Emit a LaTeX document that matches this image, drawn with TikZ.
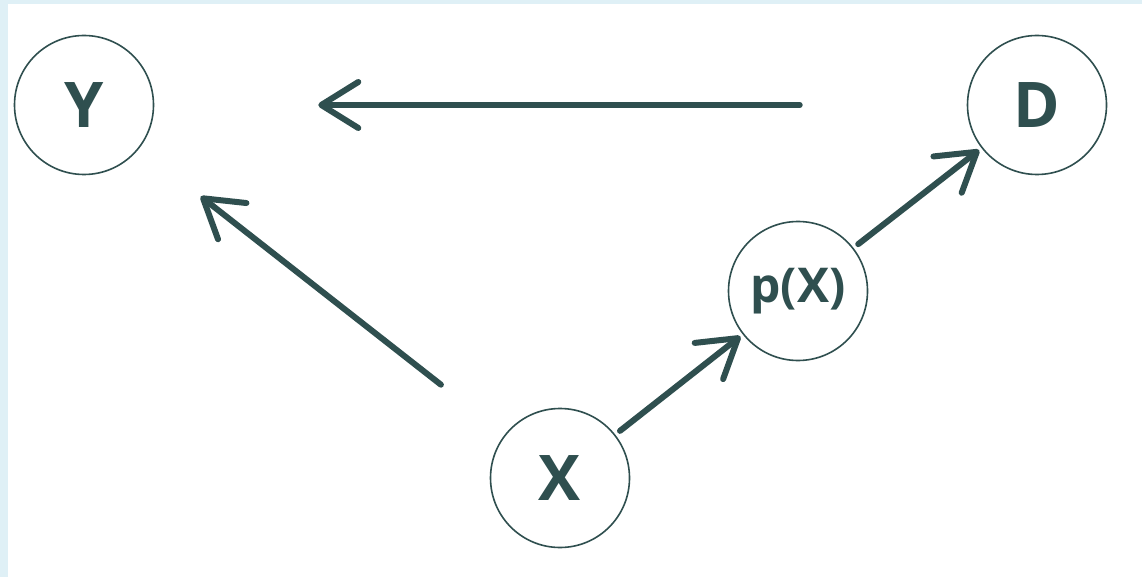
\documentclass[tikz,border=0pt]{standalone}
\usepackage{fontspec}
\setmainfont{Open Sans}
\usetikzlibrary{arrows.meta}
\definecolor{ink}{HTML}{2F4F4F}
\definecolor{frame}{HTML}{DFF0F6}
\tikzset{
  var/.style={circle, draw=ink, line width=1.6pt, minimum size=139pt, inner sep=0pt,
    text=ink, font=\bfseries\fontsize{63}{63}\selectfont},
  small/.style={font=\bfseries\fontsize{48}{48}\selectfont},
  link/.style={draw=ink, line width=6pt, line cap=round,
    -{Straight Barb[length=37pt,width=46pt,round]}}
}
\begin{document}
\begin{tikzpicture}[x=1pt,y=-1pt]
  % page with the pale strip along the top and left edges
  \fill[frame] (0,0) rectangle (1142,577);
  \fill[white] (8,4) rectangle (1142,577);
  \useasboundingbox (0,0) rectangle (1142,577);

  \node[var] (Y) at (84,105) {Y};
  \node[var] (D) at (1037,105) {D};
  \node[var,small] (P) at (798,291) {p(X)};
  \node[var] (X) at (560,478) {X};

  \draw[link, shorten <=167pt, shorten >=164pt] (D) -- (Y);
  \draw[link, shorten <=81pt, shorten >=78pt] (X) -- (Y);
  \draw[link, shorten <=6pt, shorten >=3pt] (X) -- (P);
  \draw[link, shorten <=6pt, shorten >=3pt] (P) -- (D);
\end{tikzpicture}
\end{document}
